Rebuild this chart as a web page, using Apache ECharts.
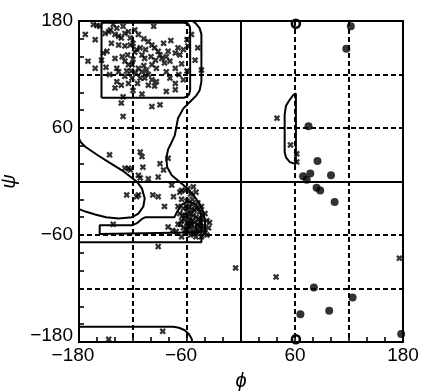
<!DOCTYPE html>
<html><head><meta charset="utf-8">
<script src="https://cdn.jsdelivr.net/npm/echarts@6/dist/echarts.min.js"></script>
<style>html,body{margin:0;padding:0;background:#fff}#c{width:423px;height:391px}</style>
</head><body><div id="c"></div>
<script>
// tick labels shown on both axes
const xTickLabels = [-180, -60, 60, 180];
const yTickLabels = [-180, -60, 60, 180];

// residues plotted as crosses (phi, psi)
const crossPoints = [
 [-164,176],[-160,175],[-157,174],[-142,176],[-131,174],[-97,174],
 [-173,165],[-162,159],[-151,166],[-147,168],[-140,165],[-136,163],[-133,161],[-129,166],[-125,168],[-123,161],
 [-144,155],[-149,146],[-153,144],[-136,153],[-129,152],[-123,153],[-120,155],[-116,148],[-112,150],[-110,142],[-107,138],
 [-103,157],[-99,153],[-96,150],[-92,146],[-90,142],[-88,138],[-81,146],[-73,144],[-68,142],[-70,150],[-64,148],[-59,152],
 [-170,135],[-162,127],[-138,127],[-136,123],[-129,135],[-125,131],[-121,131],[-120,137],[-114,127],[-110,123],[-105,125],
 [-99,131],[-94,127],[-85,133],[-79,135],[-73,127],[-83,123],
 [-129,118],[-121,116],[-112,116],[-107,116],[-99,114],[-94,112],[-140,105],[-133,108],[-125,110],[-103,108],[-96,107],
 [-79,116],[-73,110],[-64,114],[-131,95],[-73,103],
 [-145,170],[-138,172],[-118,170],[-114,165],[-108,160],[-118,145],[-126,142],[-132,140],[-140,138],[-106,148],[-100,140],
 [-95,136],[-117,122],[-122,124],[-127,124],[-108,130],[-103,120],[-115,110],[-120,102],[-110,98],[-138,112],[-146,120],
 [-150,128],[-155,136],[-86,155],[-78,158],[-83,140],[-66,132],[-60,124],[-69,120],
 [-133,88],[-131,73],[-99,84],[-90,86],[-83,101],
 [-60,159],[-51,136],[-44,125],[-55,165],[-48,150],
 [-146,30],[-129,15],[-125,15],[-123,13],[-112,33],[-110,28],[-109,16],[-114,7],[-112,4],[-103,3],[-92,5],[-90,20],
 [-86,13],[-81,26],[-127,-15],[-116,-17],[-114,-15],[-98,-15],[-92,-17],[-85,-28],[-142,-48],[-77,-4],[-75,-17],
 [-92,-73],[-81,-51],[-66,-10],[-59,-8],[-53,-6],
 [-68,-12],[-62,-10],[-56,-14],[-50,-12],[-66,-20],[-60,-22],[-54,-20],[-48,-24],[-44,-28],[-70,-28],[-64,-30],
 [-58,-28],[-52,-32],[-46,-34],[-40,-36],[-68,-36],[-62,-38],[-56,-36],[-50,-40],[-44,-42],[-38,-44],[-66,-44],
 [-60,-46],[-54,-44],[-48,-48],[-42,-50],[-64,-52],[-58,-54],[-52,-52],[-46,-56],[-40,-58],[-62,-58],[-56,-60],
 [-50,-62],[-44,-62],[-70,-48],[-72,-56],[-58,-40],[-52,-46],[-60,-34],[-54,-26],[-48,-54],[-36,-52],[-38,-60],
 [-66,-62],[-76,-55],[-47,-42],[-57,-50],[-63,-42],[-53,-57],
 [-55,-32],[-49,-30],[-43,-38],[-61,-28],[-65,-38],[-59,-50],[-53,-38],[-47,-50],[-41,-54],[-55,-48],[-61,-54],
 [-51,-58],[-45,-46],[-57,-44],[-67,-48],[-35,-46],
 [40,71],[55,41],[62,31],[62,22],
 [-6,-97],[39,-107],[176,-86],[-147,-177],[-87,-168]
];

// residues plotted as filled dots
const dotPoints = [
 [122,174],[117,149],[75,62],[85,23],[77,9],[100,7],[69,6],[73,2],[84,-7],[88,-10],[104,-23],
 [81,-119],[124,-130],[66,-149],[98,-145],[178,-171]
];

// residues plotted as open circles
const ringPoints = [[61,177],[61,-177]];

// contour lines (phi, psi)
const outerRight = [[-54,180],[-50,177],[-46,172],[-44,165],[-44,112],[-46,102],[-50,96],[-58,88],[-64,82],[-70,71],
 [-73.5,52],[-78,42],[-81,36],[-83,26],[-82,16],[-77,7],[-70,1],[-64,-4],[-53,-15],[-46,-25],[-42,-34],[-40,-45],
 [-40,-57],[-42,-59],[-44,-62],[-44,-68],[-180,-68]];
const outerLeft = [[-180,48],[-178,44],[-173,39],[-160,30],[-147.5,22],[-130,11],[-120,3],[-115,-1],[-110,-8],
 [-107,-19],[-108.5,-28],[-114,-36],[-121,-40],[-136,-41.5],[-150,-40],[-162,-37],[-172,-34],[-180,-31]];
const innerBeta = [[-155,94],[-155,178],[-63,178],[-59,177],[-57,174],[-56.5,170],[-56.5,103],[-57.5,98],[-60,95],
 [-64,94],[-155,94]];
const innerAlpha = [[-157,-59],[-157,-49],[-121,-49],[-116,-47],[-110,-42],[-106,-40],[-74,-40],[-71,-34],[-66,-26],
 [-58,-22],[-50,-26],[-45,-34],[-44,-44],[-44,-57],[-46,-59],[-157,-59]];
const leftHanded = [[61,99],[58,97],[53,90],[50,85],[48.5,75],[48.5,33],[50,27],[54,22],[58,20.5],[61,20],[61,99]];
const bottomArc = [[-180,-163],[-75,-163],[-69,-164],[-63,-166.5],[-58,-171],[-55,-176],[-54,-180]];

const FONT = '"Liberation Sans", Arial, Helvetica, sans-serif';
const LABEL_SIZE = 19;

const chart = echarts.init(document.getElementById('c'), null, {renderer: 'canvas'});
const crossPath = 'path://M0,2.5L2.5,0L5,2.5L7.5,0L10,2.5L7.5,5L10,7.5L7.5,10L5,7.5L2.5,10L0,7.5L2.5,5Z';
const contourStyle = {color: '#000', width: 2};
function contour(data) {
  return {type: 'line', data: data, symbol: 'none', smooth: false, lineStyle: contourStyle,
          silent: true, animation: false, z: 3};
}

const richBase = {fontFamily: FONT, fontSize: LABEL_SIZE, color: '#000'};
const axisCommon = {
  type: 'value', min: -180, max: 180, interval: 60,
  axisLine: {show: true, onZero: false, lineStyle: {color: '#000', width: 2}},
  axisTick: {show: true, inside: true, length: 5, lineStyle: {color: '#000', width: 1.6}},
  minorTick: {show: true, splitNumber: 3, length: 5, lineStyle: {color: '#000', width: 1.6}},
  splitLine: {show: true, lineStyle: {color: '#000', width: 2, type: [5, 3]}},
  nameTextStyle: {fontFamily: FONT, fontStyle: 'italic', fontSize: 20, color: '#000'}
};

chart.setOption({
  animation: false,
  backgroundColor: '#fff',
  grid: {left: 79, right: 20, top: 21, bottom: 49, show: true, borderColor: '#000', borderWidth: 2,
         containLabel: false, outerBoundsMode: 'none'},
  xAxis: Object.assign({}, axisCommon, {
    name: '\u03d5', nameLocation: 'middle', nameGap: 29,
    axisLabel: {show: true, margin: 4, fontFamily: FONT, fontSize: LABEL_SIZE, color: '#000',
      showMinLabel: true, showMaxLabel: true,
      rich: {neg: Object.assign({padding: [0, 12, 0, 0]}, richBase), pos: richBase},
      formatter: v => xTickLabels.indexOf(v) < 0 ? '' : (v < 0 ? '{neg|\u2212' + (-v) + '}' : '{pos|' + v + '}')}
  }),
  yAxis: Object.assign({}, axisCommon, {
    name: '\u03c8', nameLocation: 'middle', nameGap: 52, nameRotate: 90,
    axisLabel: {show: true, margin: 6, fontFamily: FONT, fontSize: LABEL_SIZE, color: '#000',
      showMinLabel: true, showMaxLabel: true,
      rich: {lo: Object.assign({padding: [0, 0, 12, 0]}, richBase), n: richBase},
      formatter: v => yTickLabels.indexOf(v) < 0 ? '' :
        (v === -180 ? '{lo|\u2212180}' : '{n|' + (v < 0 ? '\u2212' + (-v) : v) + '}')}
  }),
  series: [
    {type: 'scatter', data: crossPoints, symbol: crossPath, symbolSize: 6.5, itemStyle: {color: '#000'}, z: 4,
     markLine: {silent: true, symbol: ['none', 'none'], label: {show: false}, animation: false,
       lineStyle: {color: '#000', width: 2, type: 'solid'}, data: [{xAxis: 0}, {yAxis: 0}]}},
    {type: 'scatter', data: dotPoints, symbol: 'circle', symbolSize: 8, itemStyle: {color: '#000'}, z: 4},
    {type: 'scatter', data: ringPoints, symbol: 'circle', symbolSize: 8,
     itemStyle: {color: 'rgba(255,255,255,0)', borderColor: '#000', borderWidth: 2.5, opacity: 1}, z: 5}
    ,
    contour(outerRight), contour(outerLeft), contour(innerBeta), contour(innerAlpha),
    contour(leftHanded), contour(bottomArc)
  ]
});
</script></body></html>
